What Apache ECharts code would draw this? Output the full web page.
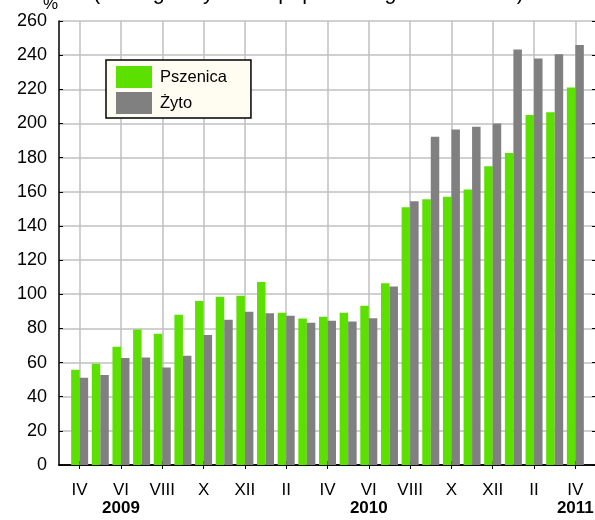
<!DOCTYPE html>
<html><head><meta charset="utf-8">
<script src="https://cdn.jsdelivr.net/npm/echarts/dist/echarts.min.js"></script>
<style>html,body{margin:0;padding:0;background:#fff}#c{width:595px;height:520px}</style>
</head><body><div id="c"></div><script>
// Months April 2009 .. April 2011
const months = ['IV','V','VI','VII','VIII','IX','X','XI','XII','I','II','III','IV','V','VI','VII','VIII','IX','X','XI','XII','I','II','III','IV'];
const wheat = [55.8, 59.3, 69.2, 79.4, 76.8, 88.0, 96.0, 98.5, 99.1, 107.1, 89.1, 85.8, 86.8, 89.1, 93.2, 106.5, 150.9, 155.6, 157.1, 161.4, 174.9, 182.7, 204.9, 206.5, 221.1];
const rye   = [51.1, 52.7, 62.6, 63.0, 57.1, 64.0, 76.1, 85.0, 89.7, 88.9, 87.4, 83.3, 84.4, 84.0, 86.0, 104.5, 154.4, 192.2, 196.5, 198.1, 200.0, 243.3, 238.1, 240.6, 246.0];
const years = ['2009', '2010', '2011'];
const yearMonthIndex = [2, 14, 24];
const yTicks = [0, 20, 40, 60, 80, 100, 120, 140, 160, 180, 200, 220, 240, 260];
const seriesNames = ['Pszenica', 'Żyto'];
const titleText = '(analogiczny okres poprzedniego roku = 100)';
const unitText = '%';

// padded category axis (one empty slot at each end)
const cats = [''].concat(months, ['']);
const pad = arr => [null].concat(arr, [null]);
const yearOf = {};
yearMonthIndex.forEach((m, i) => { yearOf[m + 1] = years[i]; });
const showIdx = i => i >= 1 && i <= months.length && (i - 1) % 2 === 0;

const FONT = '"Liberation Sans", Arial, sans-serif';
const GRID = '#c0c0c0';
const chart = echarts.init(document.getElementById('c'), null, {renderer: 'canvas'});
chart.setOption({
  animation: false,
  backgroundColor: '#ffffff',
  textStyle: {fontFamily: FONT},
  title: [
    {text: titleText, left: 93, top: -18, padding: 0,
     textStyle: {fontFamily: FONT, fontSize: 21.5, fontWeight: 'normal', color: '#000'}},
    {text: unitText, left: 43, top: -4, padding: 0,
     textStyle: {fontFamily: FONT, fontSize: 17, fontWeight: 'normal', color: '#000'}}
  ],
  legend: {
    data: seriesNames, orient: 'vertical', left: 106, top: 60,
    icon: 'rect', itemWidth: 36, itemHeight: 22, itemGap: 4,
    padding: [6, 24, 4, 10],
    backgroundColor: '#fffcf2', borderColor: '#000', borderWidth: 1.5,
    textStyle: {fontFamily: FONT, fontSize: 16.5, color: '#000', padding: [0, 0, 0, 3]},
    selectedMode: false
  },
  grid: {left: 59, top: 21, width: 537, bottom: 55, containLabel: false, outerBoundsMode: 'none'},
  xAxis: [
    {type: 'category', data: cats, boundaryGap: false, position: 'bottom',
     axisLine: {show: true, lineStyle: {color: '#000', width: 1.5}},
     axisTick: {show: true, inside: true, length: 4, interval: (i) => showIdx(i), lineStyle: {color: '#000', width: 1}},
     splitLine: {show: true, interval: (i) => showIdx(i), lineStyle: {color: GRID, width: 1.5}},
     axisLabel: {
       interval: (i) => showIdx(i), margin: 15, color: '#000',
       formatter: (v, i) => yearOf[i] ? '{m|' + v + '}\n{y|' + yearOf[i] + '}' : '{m|' + v + '}',
       rich: {
         m: {fontFamily: FONT, fontSize: 17, lineHeight: 20, color: '#000'},
         y: {fontFamily: FONT, fontSize: 17, fontWeight: 'bold', lineHeight: 17, color: '#000'}
       }
     }},
    {type: 'category', data: cats, boundaryGap: false, position: 'top',
     axisLine: {show: true, lineStyle: {color: '#000', width: 1.5}},
     axisTick: {show: true, inside: true, length: 4, interval: (i) => showIdx(i), lineStyle: {color: '#000', width: 1}},
     splitLine: {show: false}, axisLabel: {show: false}}
  ],
  yAxis: [
    {type: 'value', min: yTicks[0], max: yTicks[yTicks.length - 1], interval: yTicks[1] - yTicks[0], position: 'left',
     axisLine: {show: true, lineStyle: {color: '#000', width: 1.5}},
     axisTick: {show: true, inside: true, length: 4, lineStyle: {color: '#000'}},
     splitLine: {show: true, lineStyle: {color: GRID, width: 1.5}},
     axisLabel: {fontFamily: FONT, fontSize: 18, color: '#000', margin: 12}},
    {type: 'value', min: yTicks[0], max: yTicks[yTicks.length - 1], interval: yTicks[1] - yTicks[0], position: 'right',
     axisLine: {show: true, lineStyle: {color: '#000', width: 1.5}},
     axisTick: {show: true, inside: true, length: 4, lineStyle: {color: '#000'}},
     splitLine: {show: false}, axisLabel: {show: false}}
  ],
  series: [
    {name: seriesNames[0], type: 'bar', data: pad(wheat), barWidth: 8.5, barGap: '0%',
     itemStyle: {color: '#5ce000'}},
    {name: seriesNames[1], type: 'bar', data: pad(rye), barWidth: 8.5, barGap: '0%',
     itemStyle: {color: '#808080'}}
  ]
});
</script></body></html>
